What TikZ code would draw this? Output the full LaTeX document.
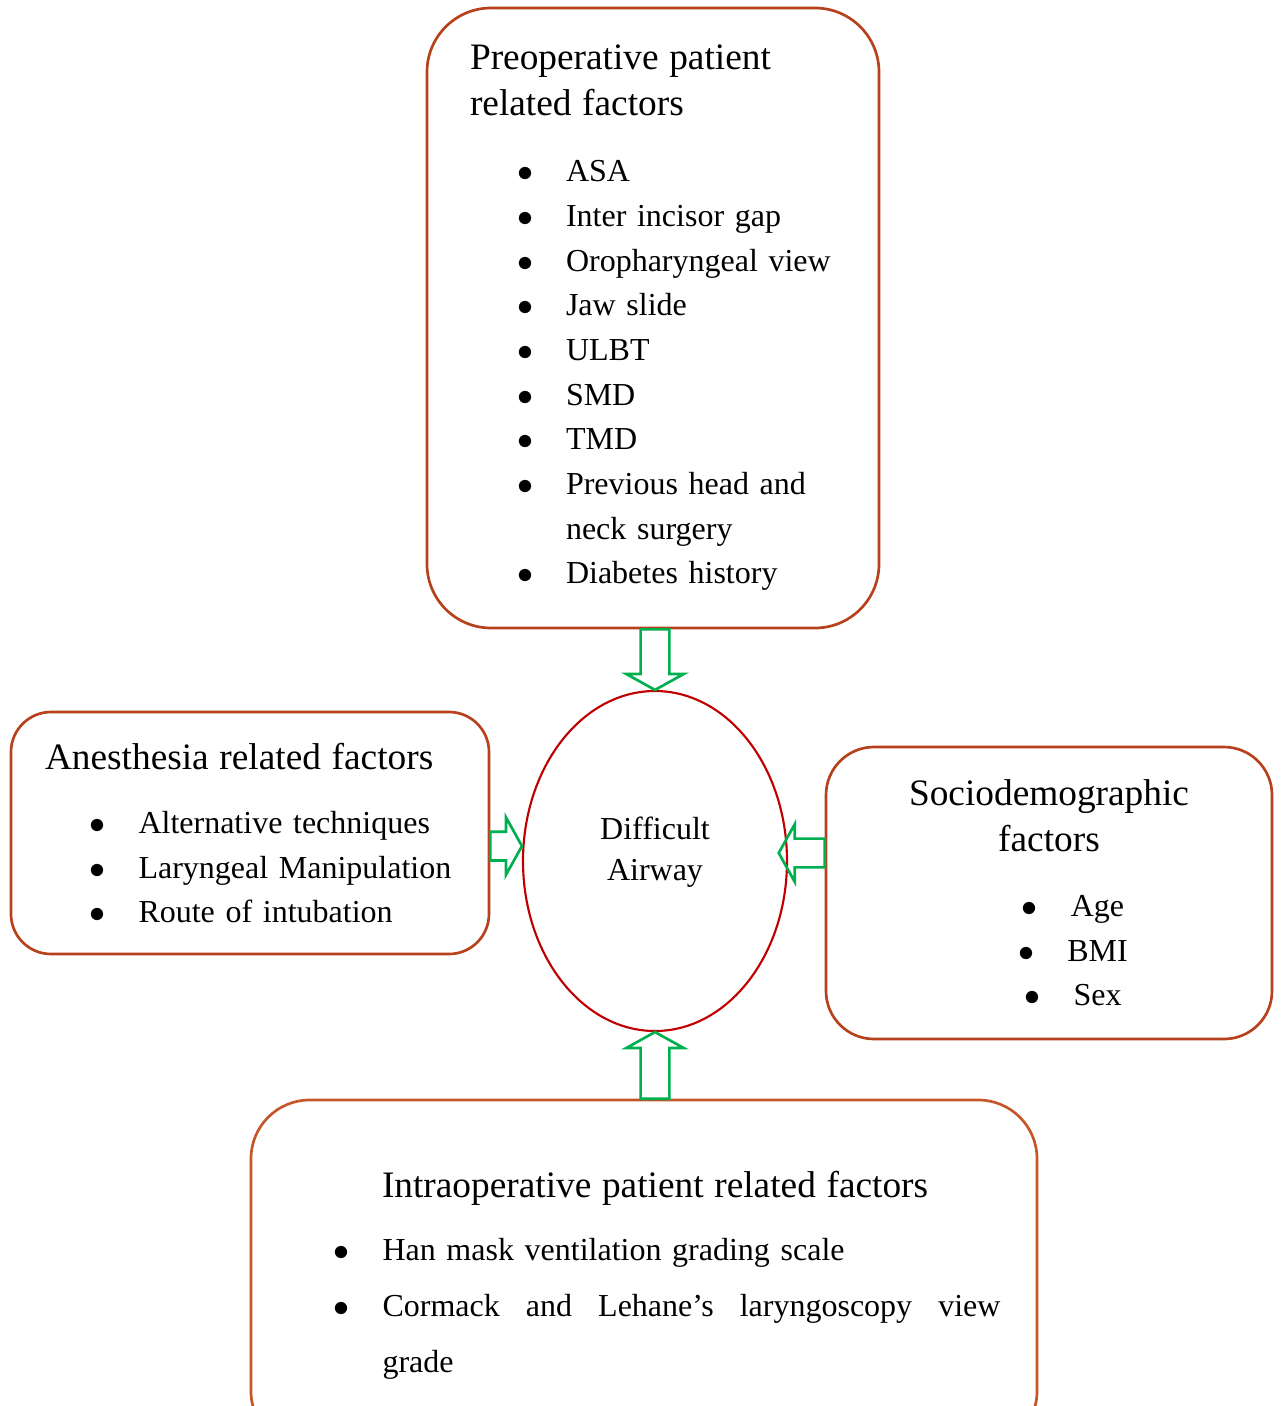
\documentclass[tikz,border=0pt]{standalone}
\usepackage{fontspec}
\setmainfont{Liberation Serif}
\usetikzlibrary{calc,shapes.geometric}
\definecolor{boxrust}{HTML}{B7411C}
\definecolor{boxorange}{HTML}{C4562A}
\definecolor{ovalred}{HTML}{C00000}
\definecolor{leafgreen}{HTML}{00B050}
\newdimen\pxu \pxu=0.375pt
\setlength{\parindent}{0pt}
\newcommand{\itm}[1]{\makebox[49\pxu][l]{$\bullet$}#1}
\newcommand{\blockarrow}[2]{%
  \path let \p1=($(#2)-(#1)$) in
    \pgfextra{\pgfmathsetmacro\arang{atan2(\y1,\x1)}%
              \pgfmathsetmacro\arlen{veclen(\x1,\y1)}%
              \xdef\barang{\arang}\xdef\barlen{\arlen}};
  \draw[blockarr,shift={(#1)},rotate=\barang]
    (0pt,-5.4pt) -- (\barlen pt-6pt,-5.4pt) -- (\barlen pt-6pt,-10.8pt)
    -- (\barlen pt,0pt) -- (\barlen pt-6pt,10.8pt) -- (\barlen pt-6pt,5.4pt)
    -- (0pt,5.4pt) -- cycle;}

\begin{document}
\begin{tikzpicture}[x=0.375pt,y=-0.375pt,
  factor/.style={draw=boxrust,line width=1pt,rounded corners=#1,
                 inner sep=0pt,align=left,
                 font=\fontsize{12}{16.75}\selectfont},
  oval/.style={ellipse,draw=ovalred,line width=0.8pt,
               minimum width=99pt,minimum height=127.5pt,align=center,
               font=\fontsize{12}{15.4}\selectfont},
  blockarr/.style={draw=leafgreen,line width=1pt,line join=miter},
]
\useasboundingbox (0,0) rectangle (1280,1406);

% Centre oval
\node[oval,text depth=9pt] (airway) at (655,861) {Difficult\\Airway};

% Preoperative factors (top)
\node[factor=24pt,text width=169.5pt,minimum height=232.5pt] (preop) at (653,318) {%
  {\leftskip=43\pxu\relax\fontsize{14}{17.25}\selectfont
   Preoperative patient\\related factors\par}
  \vspace{8pt}
  {\leftskip=90\pxu\relax
   \itm{ASA}\\\itm{Inter incisor gap}\\\itm{Oropharyngeal view}\\
   \itm{Jaw slide}\\\itm{ULBT}\\\itm{SMD}\\\itm{TMD}\\
   \itm{Previous head and}\\\hspace*{49\pxu}neck surgery\\
   \itm{Diabetes history}\par}};

% Anesthesia factors (left)
\node[factor=15pt,text width=179.25pt,minimum height=90.75pt] (anes) at (250,833) {%
  {\leftskip=34\pxu\relax\fontsize{14}{17.25}\selectfont
   Anesthesia related factors\par}
  \vspace{7.4pt}
  {\leftskip=78.5\pxu\relax
   \itm{Alternative techniques}\\\itm{Laryngeal Manipulation}\\
   \itm{Route of intubation}\par}};

% Sociodemographic factors (right)
\node[factor=18pt,align=center,text width=167.25pt,minimum height=109.5pt] (socio) at (1049,893) {%
  {\fontsize{14}{17.25}\selectfont Sociodemographic\\factors\par}
  \vspace{7.6pt}
  {\hspace*{48\pxu}\itm{Age}\\\hspace*{48\pxu}\itm{BMI}\\
   \hspace*{48\pxu}\itm{Sex}\par}};

% Intraoperative factors (bottom)
\node[factor=22pt,draw=boxorange,text width=294.75pt,minimum height=131.25pt] (intraop) at (644,1275) {%
  {\leftskip=131\pxu\relax\fontsize{14}{17.25}\selectfont
   Intraoperative patient related factors\par}
  \vspace{2.6pt}
  {\leftskip=82.5\pxu\relax\baselineskip=21pt
   \itm{Han mask ventilation grading scale}\\
   \itm{\makebox[618\pxu][l]{Cormack\hfill and\hfill Lehane's\hfill laryngoscopy\hfill view}}\\
   \hspace*{49\pxu}grade\par}};

% Block arrows into the oval
\coordinate (preout) at (airway.north |- preop.south);
\coordinate (intraout) at (airway.south |- intraop.north);
\coordinate (anesout) at ([yshift=-4.9pt]anes.east);
\coordinate (anesin) at (anesout -| airway.west);
\coordinate (socout) at ([yshift=15pt]socio.west);
\coordinate (socin) at ($(socout -| airway.east)+(-3.5pt,0pt)$);
\blockarrow{preout}{airway.north}
\blockarrow{intraout}{airway.south}
\blockarrow{anesout}{anesin}
\blockarrow{socout}{socin}

\end{tikzpicture}
\end{document}
